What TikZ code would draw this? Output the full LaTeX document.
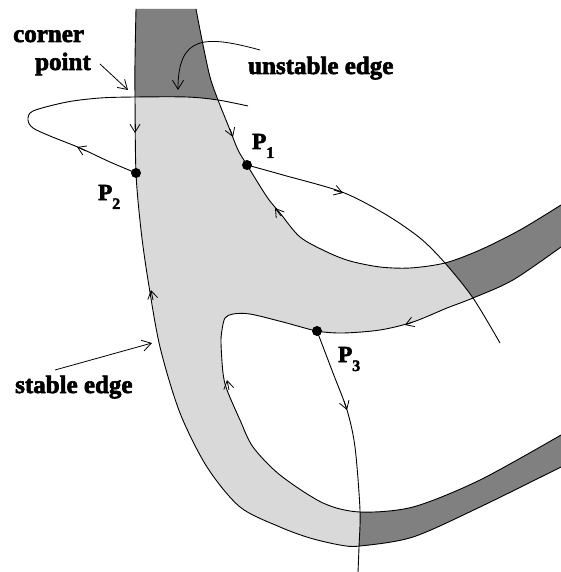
\documentclass[tikz,border=0pt]{standalone}
\usepackage{fontspec}
\setmainfont{Liberation Serif}[BoldFeatures={FakeBold=2.5}]
\usetikzlibrary{arrows.meta}
\definecolor{lightg}{gray}{0.85}
\definecolor{darkg}{gray}{0.5}
\newcommand{\Psub}[1]{P\raisebox{-9pt}{\fontsize{16}{16}\selectfont #1}}
\begin{document}
\begin{tikzpicture}[x=1pt,y=-1pt,
  edge/.style={line width=0.9pt, black},
  barb/.style={line width=0.8pt, -{Straight Barb[length=8pt,width=10pt]}},
  labarrow/.style={line width=0.8pt, -{Straight Barb[length=9pt,width=11pt]}},
  dot/.style={circle, fill=black, inner sep=0pt, minimum size=10pt},
  lab/.style={font=\fontsize{25}{30}\selectfont\bfseries, inner sep=0pt, anchor=base west},
  plab/.style={font=\fontsize{23}{28}\selectfont\bfseries, inner sep=0pt, anchor=base west}]
\useasboundingbox (0,0) rectangle (561,572);

% band (light)
\fill[lightg] plot[smooth] coordinates {(136,9) (135,60) (135,97) (136,173) (141,230) (148,280) (160,347) (180,413) (207,467) (240,507) (280,527) (310,538) (340,545) (360,546) (413,537) (480,507) (561,467)}
 -- plot[smooth] coordinates {(561,435) (480,480) (413,507) (360,512) (323,503) (280,475) (253,447) (240,420) (227,390) (223,373) (221,343) (222,330) (225,318) (233,314) (250,314) (283,322) (317,331) (343,333) (380,330) (413,322) (447,308) (473,298) (513,280) (561,247)}
 -- plot[smooth] coordinates {(561,205) (520,230) (480,250) (445,263) (410,268) (380,267) (350,261) (327,252) (300,237) (280,213) (267,197) (247,165) (238,150) (230,130) (218,100) (210,77) (202,40) (196,9)}
 -- cycle;

% dark parts
\begin{scope}
\clip plot[smooth] coordinates {(136,9) (135,60) (135,97) (136,173) (141,230) (148,280) (160,347) (180,413) (207,467) (240,507) (280,527) (310,538) (340,545) (360,546) (413,537) (480,507) (561,467)}
 -- plot[smooth] coordinates {(561,435) (480,480) (413,507) (360,512) (323,503) (280,475) (253,447) (240,420) (227,390) (223,373) (221,343) (222,330) (225,318) (233,314) (250,314) (283,322) (317,331) (343,333) (380,330) (413,322) (447,308) (473,298) (513,280) (561,247)}
 -- plot[smooth] coordinates {(561,205) (520,230) (480,250) (445,263) (410,268) (380,267) (350,261) (327,252) (300,237) (280,213) (267,197) (247,165) (238,150) (230,130) (218,100) (210,77) (202,40) (196,9)}
 -- cycle;
\fill[darkg] plot[smooth] coordinates {(67,102) (100,98) (135,97) (187,97) (218,100) (248,106)} -- (260,0) -- (67,0) -- cycle;
\fill[darkg] plot[smooth] coordinates {(342,192) (385,214) (420,238) (445,263) (473,298) (500,343)} -- (600,343) -- (600,150) -- (342,150) -- cycle;
\fill[darkg] plot[smooth] coordinates {(347,410) (355,447) (360,510) (359,547) (358,572)} -- (600,572) -- (600,400) -- (347,400) -- cycle;
\end{scope}

% edges of the band
\draw[edge] plot[smooth] coordinates {(136,9) (135,60) (135,97) (136,173) (141,230) (148,280) (160,347) (180,413) (207,467) (240,507) (280,527) (310,538) (340,545) (360,546) (413,537) (480,507) (561,467)};
\draw[edge] plot[smooth] coordinates {(561,435) (480,480) (413,507) (360,512) (323,503) (280,475) (253,447) (240,420) (227,390) (223,373) (221,343) (222,330) (225,318) (233,314) (250,314) (283,322) (317,331) (343,333) (380,330) (413,322) (447,308) (473,298) (513,280) (561,247)};
\draw[edge] plot[smooth] coordinates {(561,205) (520,230) (480,250) (445,263) (410,268) (380,267) (350,261) (327,252) (300,237) (280,213) (267,197) (247,165) (238,150) (230,130) (218,100) (210,77) (202,40) (196,9)};

% trajectories
\draw[edge] plot[smooth] coordinates {(136,173) (110,162) (80,148) (50,136) (33,128) (28,120) (33,111) (67,102) (100,98) (135,97) (187,97) (218,100) (248,106)};
\draw[edge] plot[smooth] coordinates {(247,165) (283,175) (342,192) (385,214) (420,238) (445,263) (473,298) (500,343)};
\draw[edge] plot[smooth] coordinates {(317,331) (333,373) (347,410) (355,447) (360,510) (359,547) (358,572)};

% arrowheads on curves
\draw[barb] (135,124) -- (135,133);
\draw[barb] (230,129) -- (233,137);
\draw[barb] (334,190) -- (343,193);
\draw[barb] (281,216) -- (275,208);
\draw[barb] (413,322) -- (405,325);
\draw[barb] (153,300) -- (151,290);
\draw[barb] (229,390) -- (227,380);
\draw[barb] (344,401) -- (347,410);
\draw[barb] (86,151) -- (77,147);

% fixed points
\node[dot] (P1) at (247,165) {};
\node[dot] (P2) at (136,173) {};
\node[dot] (P3) at (317,331) {};

% labels
\node[plab] (L1) at (252,149) {\Psub{1}};
\node[plab] (L2) at (98,200) {\Psub{2}};
\node[plab] (L3) at (338,362) {\Psub{3}};
\node[lab] (cornerA) at (13,42) {corner};
\node[lab] (cornerB) at (35,70) {point};
\node[lab] (unst) at (248,74) {unstable edge};
\node[lab] (stab) at (15,393) {stable edge};

% label arrows
\coordinate (cptail) at (100,64);
\coordinate (cptip) at (128,90);
\draw[labarrow] (cptail) -- (cptip);
\coordinate (setail) at (55,370);
\coordinate (setip) at (152,343);
\draw[labarrow] (setail) -- (setip);
\coordinate (uetail) at (260,50);
\coordinate (uetip) at (178,90);
\draw[labarrow] (uetail) .. controls (205,35) and (178,35) .. (uetip);
\end{tikzpicture}
\end{document}
